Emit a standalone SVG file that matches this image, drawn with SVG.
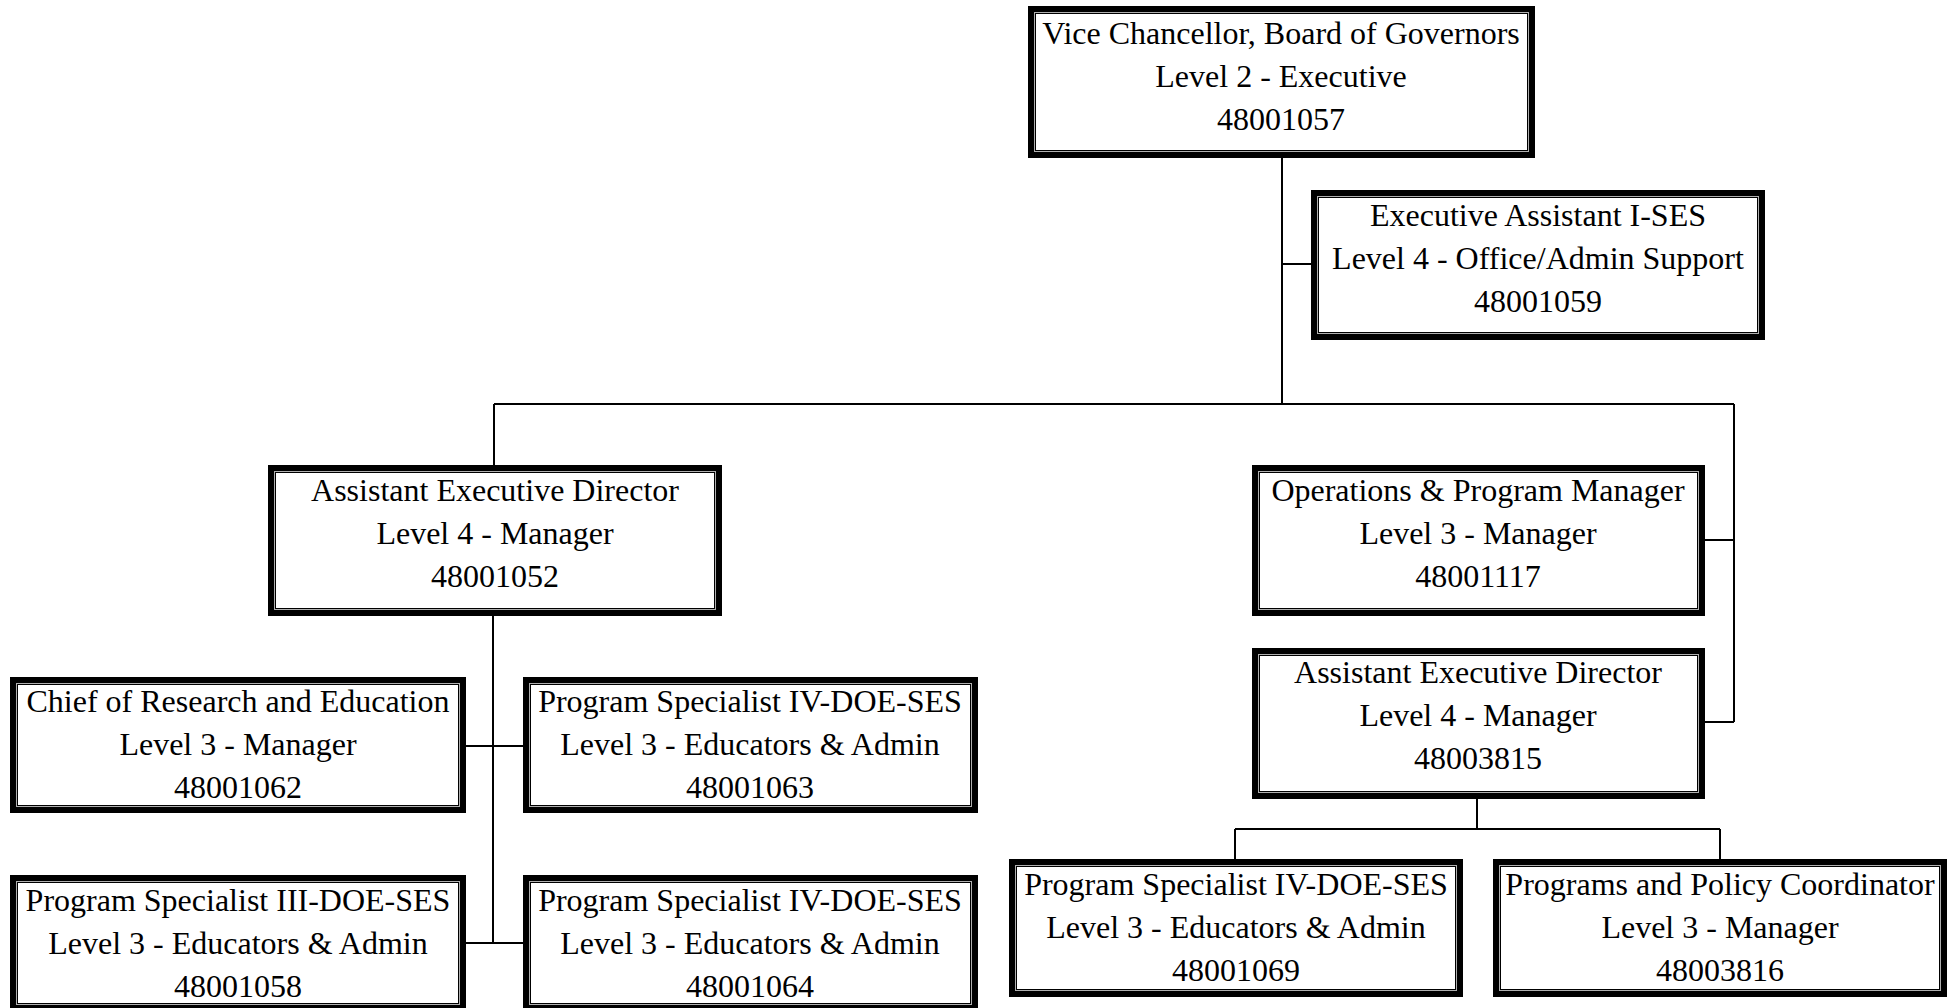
<svg xmlns="http://www.w3.org/2000/svg" width="1959" height="1008" viewBox="0 0 1959 1008">
<style>
.box{fill:#fff;stroke:#000;stroke-width:8}
.inner{fill:none;stroke:#b0b0b0;stroke-width:1}
.t{font-family:"Liberation Serif","Times New Roman",serif;font-size:32px;fill:#000;text-anchor:middle}
.c{fill:none;stroke:#000;stroke-width:2}
</style>
<rect width="1959" height="1008" fill="#fff"/>
<g id="connectors">
<path class="c" d="M1282 158V404M1282 264H1311M494 404H1734M494 404V465M1734 404V722M1705 540H1734M1705 722H1734M493 616V943M466 746H523M466 943H523M1477 799V829M1235 829H1720M1235 829V859M1720 829V859"/>
</g>
<g id="n-vc">
<rect class="box" x="1032" y="10" width="499" height="144"/>
<rect class="inner" x="1034.5" y="12.5" width="494" height="139"/>
<text class="t" x="1281" y="44">Vice Chancellor, Board of Governors</text>
<text class="t" x="1281" y="87">Level 2 - Executive</text>
<text class="t" x="1281" y="130">48001057</text>
</g>
<g id="n-ea">
<rect class="box" x="1315" y="194" width="446" height="142"/>
<rect class="inner" x="1317.5" y="196.5" width="441" height="137"/>
<text class="t" x="1538" y="226">Executive Assistant I-SES</text>
<text class="t" x="1538" y="269">Level 4 - Office/Admin Support</text>
<text class="t" x="1538" y="312">48001059</text>
</g>
<g id="n-aed1">
<rect class="box" x="272" y="469" width="446" height="143"/>
<rect class="inner" x="274.5" y="471.5" width="441" height="138"/>
<text class="t" x="495" y="501">Assistant Executive Director</text>
<text class="t" x="495" y="544">Level 4 - Manager</text>
<text class="t" x="495" y="587">48001052</text>
</g>
<g id="n-ops">
<rect class="box" x="1256" y="469" width="445" height="143"/>
<rect class="inner" x="1258.5" y="471.5" width="440" height="138"/>
<text class="t" x="1478" y="501">Operations &amp; Program Manager</text>
<text class="t" x="1478" y="544">Level 3 - Manager</text>
<text class="t" x="1478" y="587">48001117</text>
</g>
<g id="n-aed2">
<rect class="box" x="1256" y="652" width="445" height="143"/>
<rect class="inner" x="1258.5" y="654.5" width="440" height="138"/>
<text class="t" x="1478" y="683">Assistant Executive Director</text>
<text class="t" x="1478" y="726">Level 4 - Manager</text>
<text class="t" x="1478" y="769">48003815</text>
</g>
<g id="n-chief">
<rect class="box" x="14" y="681" width="448" height="128"/>
<rect class="inner" x="16.5" y="683.5" width="443" height="123"/>
<text class="t" x="238" y="712">Chief of Research and Education</text>
<text class="t" x="238" y="755">Level 3 - Manager</text>
<text class="t" x="238" y="798">48001062</text>
</g>
<g id="n-ps063">
<rect class="box" x="527" y="681" width="447" height="128"/>
<rect class="inner" x="529.5" y="683.5" width="442" height="123"/>
<text class="t" x="750" y="712">Program Specialist IV-DOE-SES</text>
<text class="t" x="750" y="755">Level 3 - Educators &amp; Admin</text>
<text class="t" x="750" y="798">48001063</text>
</g>
<g id="n-ps058">
<rect class="box" x="14" y="879" width="448" height="128"/>
<rect class="inner" x="16.5" y="881.5" width="443" height="123"/>
<text class="t" x="238" y="911">Program Specialist III-DOE-SES</text>
<text class="t" x="238" y="954">Level 3 - Educators &amp; Admin</text>
<text class="t" x="238" y="997">48001058</text>
</g>
<g id="n-ps064">
<rect class="box" x="527" y="879" width="447" height="128"/>
<rect class="inner" x="529.5" y="881.5" width="442" height="123"/>
<text class="t" x="750" y="911">Program Specialist IV-DOE-SES</text>
<text class="t" x="750" y="954">Level 3 - Educators &amp; Admin</text>
<text class="t" x="750" y="997">48001064</text>
</g>
<g id="n-ps069">
<rect class="box" x="1013" y="863" width="446" height="130"/>
<rect class="inner" x="1015.5" y="865.5" width="441" height="125"/>
<text class="t" x="1236" y="895">Program Specialist IV-DOE-SES</text>
<text class="t" x="1236" y="938">Level 3 - Educators &amp; Admin</text>
<text class="t" x="1236" y="981">48001069</text>
</g>
<g id="n-ppc">
<rect class="box" x="1497" y="863" width="446" height="130"/>
<rect class="inner" x="1499.5" y="865.5" width="441" height="125"/>
<text class="t" x="1720" y="895">Programs and Policy Coordinator</text>
<text class="t" x="1720" y="938">Level 3 - Manager</text>
<text class="t" x="1720" y="981">48003816</text>
</g>
</svg>
